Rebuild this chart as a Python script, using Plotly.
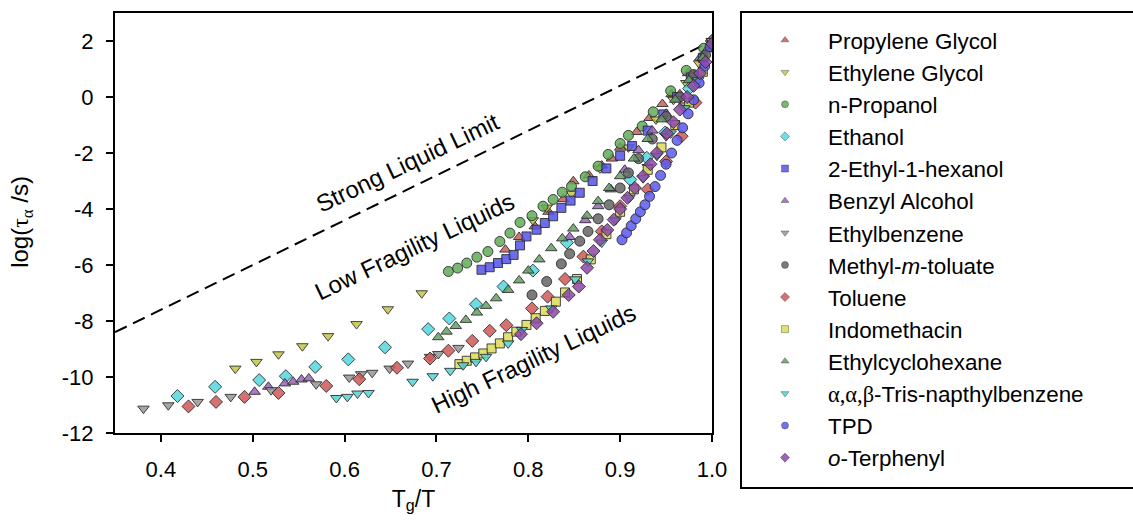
import plotly.graph_objects as go

# Strong liquid limit (Arrhenius line through log tau = 2 at Tg)
strong_x = [0.35, 1.0]
strong_y = [-8.4, 2.0]

x_ticks = [0.4, 0.5, 0.6, 0.7, 0.8, 0.9, 1.0]
y_ticks = [-12, -10, -8, -6, -4, -2, 0, 2]
y_tick_text = ["-12", "-10", "-8", "-6", "-4", "-2", "0", "2"]

pg_x = [0.775, 0.790, 0.807, 0.822, 0.838, 0.849, 0.866, 0.880, 0.891, 0.900, 0.918, 0.932, 0.946, 0.956, 0.974, 0.987, 1.000]
pg_y = [-5.45, -5.00, -4.62, -4.10, -3.65, -3.01, -2.80, -2.45, -2.20, -1.81, -1.25, -0.75, -0.25, 0.10, 0.85, 1.40, 2.00]

eg_x = [0.481, 0.504, 0.528, 0.554, 0.582, 0.613, 0.647, 0.684, 0.805, 0.820, 0.847, 0.878, 0.909, 0.939, 0.958, 0.972, 0.986, 1.000]
eg_y = [-9.70, -9.46, -9.19, -8.90, -8.54, -8.11, -7.58, -7.01, -4.40, -3.95, -3.45, -2.55, -1.80, -0.80, -0.10, 0.50, 1.20, 2.00]

npr_x = [0.713, 0.723, 0.733, 0.744, 0.756, 0.769, 0.780, 0.791, 0.804, 0.816, 0.827, 0.837, 0.847, 0.862, 0.876, 0.887, 0.900, 0.909, 0.924, 0.936, 0.955, 0.972, 0.991]
npr_y = [-6.23, -6.11, -5.93, -5.72, -5.52, -5.16, -4.86, -4.48, -4.24, -3.90, -3.66, -3.40, -3.19, -2.85, -2.47, -2.05, -1.66, -1.37, -1.04, -0.53, 0.22, 0.95, 1.74]

eth_x = [0.418, 0.459, 0.507, 0.536, 0.568, 0.604, 0.644, 0.691, 0.714, 0.743, 0.773, 0.805, 0.842, 0.911, 0.929, 0.949, 0.975, 1.000]
eth_y = [-10.68, -10.35, -10.11, -9.97, -9.64, -9.37, -8.94, -8.29, -7.91, -7.40, -6.77, -6.20, -5.20, -2.95, -2.17, -1.27, 0.30, 2.00]

ehx_x = [0.749, 0.758, 0.767, 0.776, 0.784, 0.791, 0.798, 0.809, 0.818, 0.827, 0.836, 0.846, 0.856, 0.870, 0.885, 0.900, 0.913, 0.930, 0.947, 0.962, 0.977, 0.990]
ehx_y = [-6.17, -6.08, -5.93, -5.79, -5.64, -5.30, -4.98, -4.74, -4.50, -4.26, -3.96, -3.70, -3.42, -3.00, -2.55, -2.10, -1.75, -1.20, -0.62, 0.00, 0.70, 1.40]

bza_x = [0.502, 0.517, 0.535, 0.544, 0.553, 0.561, 0.845, 0.862, 0.876, 0.890, 0.905, 0.920, 0.935, 0.950, 0.965, 0.980, 0.995]
bza_y = [-10.53, -10.35, -10.23, -10.17, -10.09, -10.05, -5.00, -4.40, -3.90, -3.30, -2.60, -1.90, -1.20, -0.60, 0.10, 0.80, 1.70]

ebz_x = [0.381, 0.408, 0.440, 0.476, 0.520, 0.569, 0.605, 0.618, 0.630, 0.649, 0.669, 0.693, 0.702, 0.724, 0.930, 0.950, 0.970, 0.985, 1.000]
ebz_y = [-11.13, -11.01, -10.89, -10.71, -10.47, -10.26, -10.02, -9.90, -9.85, -9.70, -9.52, -9.28, -9.18, -8.96, -2.50, -1.40, -0.30, 0.80, 2.00]

mmt_x = [0.804, 0.820, 0.836, 0.845, 0.856, 0.865, 0.876, 0.888, 0.900, 0.909, 0.920, 0.935, 0.950, 0.965, 0.980, 0.993]
mmt_y = [-7.07, -6.59, -5.96, -5.60, -5.15, -4.80, -4.35, -3.85, -3.25, -2.71, -2.20, -1.50, -0.70, 0.00, 0.80, 1.50]

tol_x = [0.430, 0.460, 0.491, 0.528, 0.580, 0.616, 0.657, 0.693, 0.713, 0.739, 0.758, 0.776, 0.804, 0.821, 0.840, 0.860, 0.880, 0.900, 0.930, 0.950, 0.967, 0.982, 1.000]
tol_y = [-11.05, -10.89, -10.71, -10.57, -10.32, -10.08, -9.67, -9.34, -9.06, -8.71, -8.35, -8.15, -7.55, -7.13, -6.50, -5.70, -4.80, -3.90, -3.30, -2.30, -1.40, -0.20, 2.00]

ind_x = [0.725, 0.733, 0.742, 0.751, 0.760, 0.769, 0.778, 0.787, 0.798, 0.808, 0.818, 0.830, 0.840, 0.853, 0.868, 0.885, 0.900, 0.915, 0.930, 0.945, 0.960, 0.975, 0.990, 1.000]
ind_y = [-9.54, -9.42, -9.30, -9.16, -8.98, -8.80, -8.58, -8.38, -8.14, -7.90, -7.64, -7.31, -6.98, -6.50, -5.80, -4.90, -4.10, -3.30, -2.60, -1.80, -1.00, -0.20, 0.90, 1.90]

ech_x = [0.702, 0.711, 0.721, 0.732, 0.744, 0.754, 0.765, 0.778, 0.790, 0.800, 0.812, 0.825, 0.837, 0.849, 0.864, 0.876, 0.888, 0.900, 0.915, 0.930, 0.945, 0.960, 0.975, 0.990]
ech_y = [-8.58, -8.38, -8.18, -7.96, -7.70, -7.46, -7.19, -6.89, -6.55, -6.20, -5.80, -5.40, -5.05, -4.70, -4.24, -3.72, -3.25, -2.83, -2.20, -1.50, -0.80, -0.10, 0.60, 1.40]

tnb_x = [0.591, 0.603, 0.614, 0.626, 0.674, 0.696, 0.715, 0.729, 0.743, 0.754, 0.778, 0.793, 0.825, 0.851, 0.865, 0.880, 0.895, 0.910, 0.925, 0.940, 0.955, 0.970, 0.985, 1.000]
tnb_y = [-10.75, -10.71, -10.59, -10.57, -10.17, -9.97, -9.78, -9.58, -9.46, -9.28, -8.80, -8.32, -7.55, -6.51, -5.87, -5.20, -4.40, -3.60, -2.90, -2.10, -1.30, -0.40, 0.60, 2.00]

tpd_x = [0.902, 0.907, 0.912, 0.917, 0.922, 0.927, 0.932, 0.938, 0.944, 0.950, 0.956, 0.962, 0.968, 0.974, 0.980, 0.986, 0.992, 0.998]
tpd_y = [-5.10, -4.85, -4.60, -4.35, -4.10, -3.85, -3.55, -3.20, -2.80, -2.40, -2.00, -1.55, -1.10, -0.60, -0.10, 0.50, 1.10, 1.80]

otp_x = [0.792, 0.809, 0.827, 0.844, 0.855, 0.864, 0.871, 0.878, 0.886, 0.893, 0.900, 0.908, 0.916, 0.925, 0.933, 0.940, 0.951, 0.958, 0.965, 0.973, 0.980, 0.987, 0.993, 1.000]
otp_y = [-8.47, -8.08, -7.67, -7.07, -6.77, -6.10, -5.50, -5.10, -4.75, -4.38, -4.00, -3.60, -3.25, -2.83, -2.40, -2.00, -1.30, -0.90, -0.45, 0.00, 0.40, 0.85, 1.25, 1.90]

SER = "font-family:'Liberation Serif', 'Times New Roman', serif"

# name, x, y, symbol, fill colour
series = [
    ("Propylene Glycol", pg_x, pg_y, "triangle-up", "rgba(196,96,92,0.85)"),
    ("Ethylene Glycol", eg_x, eg_y, "triangle-down", "rgba(196,196,72,0.85)"),
    ("n-Propanol", npr_x, npr_y, "circle", "rgba(96,172,88,0.85)"),
    ("Ethanol", eth_x, eth_y, "diamond", "rgba(84,214,222,0.85)"),
    ("2-Ethyl-1-hexanol", ehx_x, ehx_y, "square", "rgba(84,84,232,0.85)"),
    ("Benzyl Alcohol", bza_x, bza_y, "triangle-up", "rgba(150,100,184,0.85)"),
    ("Ethylbenzene", ebz_x, ebz_y, "triangle-down", "rgba(150,150,150,0.85)"),
    ("Methyl-<i>m</i>-toluate", mmt_x, mmt_y, "circle", "rgba(100,100,100,0.85)"),
    ("Toluene", tol_x, tol_y, "diamond", "rgba(206,88,88,0.85)"),
    ("Indomethacin", ind_x, ind_y, "square", "rgba(220,220,88,0.85)"),
    ("Ethylcyclohexane", ech_x, ech_y, "triangle-up", "rgba(100,160,100,0.85)"),
    (f"<span style=\"{SER}\">α,α,β</span>-Tris-napthylbenzene", tnb_x, tnb_y, "triangle-down", "rgba(84,210,210,0.85)"),
    ("TPD", tpd_x, tpd_y, "circle", "rgba(90,90,240,0.85)"),
    ("<i>o</i>-Terphenyl", otp_x, otp_y, "diamond", "rgba(140,72,164,0.85)"),
]

fig = go.Figure()

fig.add_trace(go.Scatter(
    x=strong_x, y=strong_y, mode="lines", showlegend=False, hoverinfo="skip",
    line=dict(color="black", width=2, dash="13px,7px"),
))

outline = dict(color="rgba(40,40,40,0.85)", width=1)
for i, (name, xs, ys, sym, col) in enumerate(series):
    fig.add_trace(go.Scatter(
        x=xs, y=ys, mode="markers", name=name, legendgroup=f"g{i}", showlegend=False,
        marker=dict(symbol=sym, size=9 if sym == "square" else 10, color=col, line=outline),
    ))
    # small marker for the legend entry
    fig.add_trace(go.Scatter(
        x=[None], y=[None], mode="markers", name=name, legendgroup=f"g{i}", showlegend=True,
        marker=dict(symbol=sym, size=7, color=col, line=dict(color="rgba(40,40,40,0.6)", width=0.6)),
    ))

FONT = "Liberation Sans, Arial, sans-serif"

labels = [
    ("Strong Liquid Limit", 0.669, -2.34),
    ("Low Fragility Liquids", 0.676, -5.35),
    ("High Fragility Liquids", 0.806, -9.33),
]
for txt, ax_, ay_ in labels:
    fig.add_annotation(x=ax_, y=ay_, text=txt, showarrow=False, textangle=-25.4,
                       font=dict(family=FONT, size=24, color="black"))

# y-axis title, placed in paper space
fig.add_annotation(
    x=-0.158, y=0.502, xref="paper", yref="paper", xanchor="center", yanchor="middle",
    text=f"log(<span style=\"{SER}\">τ<sub>α</sub></span> /s)", textangle=-90, showarrow=False,
    font=dict(family=FONT, size=24, color="black"),
)

# legend frame
fig.add_shape(type="rect", xref="paper", yref="paper",
              x0=(741 - 115) / 597, x1=(1150 - 115) / 597,
              y0=(433 - 488) / 420, y1=(433 - 12) / 420,
              line=dict(color="black", width=2), fillcolor="rgba(0,0,0,0)", layer="above")

axis_common = dict(
    showgrid=False, zeroline=False, showline=True, linecolor="black", linewidth=2,
    mirror=True, ticks="outside", ticklen=7, tickwidth=2, tickcolor="black",
    tickfont=dict(family=FONT, size=22, color="black"),
)

fig.update_layout(
    width=1133, height=529,
    margin=dict(l=115, r=421, t=13, b=96),
    paper_bgcolor="white", plot_bgcolor="white",
    font=dict(family=FONT, color="black"),
    xaxis=dict(range=[0.35, 1.0], tickvals=x_ticks, tickformat=".1f",
               ticklabelstandoff=9,
               title=dict(text="T<sub>g</sub>/T", font=dict(family=FONT, size=23), standoff=9),
               **axis_common),
    yaxis=dict(range=[-12, 3], tickvals=y_ticks, ticktext=y_tick_text,
               ticklabelstandoff=8, **axis_common),
    legend=dict(x=(742 - 115) / 597, y=(433 - 19) / 420, xanchor="left", yanchor="top",
                bgcolor="rgba(0,0,0,0)", borderwidth=0, itemwidth=76, maxheight=520,
                font=dict(family=FONT, size=22.4, color="black"), tracegroupgap=0),
    showlegend=True,
)

fig.write_html("out.html")
